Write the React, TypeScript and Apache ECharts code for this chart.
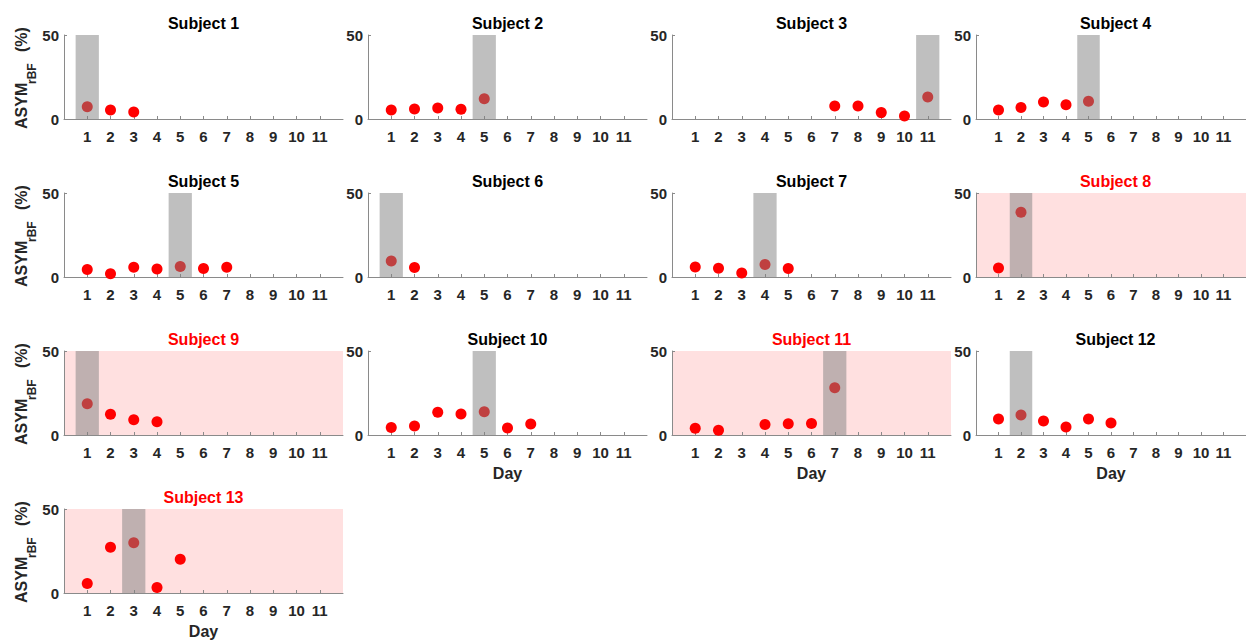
import React, { useEffect, useRef } from "react";
import * as echarts from "echarts";

// ---- data (ASYM_rBF %, index = day-1, null = no measurement) ----
const dayTicks = [1, 2, 3, 4, 5, 6, 7, 8, 9, 10, 11];
const subject1 = [7.3, 5.4, 4.2];
const subject2 = [5.4, 6.0, 6.5, 5.8, 12.1];
const subject3 = [null, null, null, null, null, null, 7.7, 7.7, 3.8, 1.8, 13.1];
const subject4 = [5.4, 6.9, 10.1, 8.5, 10.5];
const subject5 = [4.4, 2.0, 5.8, 4.8, 6.3, 5.0, 5.8];
const subject6 = [9.5, 5.6];
const subject7 = [6.0, 5.2, 2.4, 7.5, 5.0];
const subject8 = [5.4, 38.5];
const subject9 = [18.6, 12.3, 9.1, 7.9];
const subject10 = [4.5, 5.3, 13.6, 12.5, 13.8, 4.2, 6.5];
const subject11 = [4.0, 2.8, null, 6.3, 6.7, 6.9, 28.1];
const subject12 = [9.5, 11.9, 8.3, 4.8, 9.5, 7.1];
const subject13 = [5.7, 27.2, 29.9, 3.3, 20.1];
const subjectNames = [
  "Subject 1", "Subject 2", "Subject 3", "Subject 4", "Subject 5", "Subject 6", "Subject 7",
  "Subject 8", "Subject 9", "Subject 10", "Subject 11", "Subject 12", "Subject 13",
];
const highlightDays = [1, 5, 11, 5, 5, 1, 4, 2, 1, 5, 7, 2, 3];
const flaggedSubjects = [8, 9, 11, 13];
const dayAxisSubjects = [10, 11, 12, 13];
const yTicks = [0, 50];

const allSubjects = [
  subject1, subject2, subject3, subject4, subject5, subject6, subject7,
  subject8, subject9, subject10, subject11, subject12, subject13,
];

// ---- layout ----
const FONT = '"Liberation Sans", Arial, Helvetica, sans-serif';
const COL_LEFT = [64, 368, 672, 976];
const ROW_TOP = [35, 193, 351, 509];
const GRID_W = 279;
const GRID_H = 84;
const AXIS_COLOR = "#8a8a8a";
const TEXT_COLOR = "#262626";

export default function App() {
  const ref = useRef<HTMLDivElement>(null);

  useEffect(() => {
    if (!ref.current) return;
    const chart = echarts.init(ref.current, undefined, { renderer: "svg" });

    const grid: any[] = [];
    const xAxis: any[] = [];
    const yAxis: any[] = [];
    const series: any[] = [];
    const graphic: any[] = [];

    allSubjects.forEach((vals, i) => {
      const col = i % 4;
      const row = Math.floor(i / 4);
      const left = COL_LEFT[col];
      const top = ROW_TOP[row];
      const subjNo = i + 1;
      const flagged = flaggedSubjects.includes(subjNo);

      grid.push({
        left,
        top,
        width: GRID_W,
        height: GRID_H,
        show: flagged,
        backgroundColor: flagged ? "#FFE0E0" : "transparent",
        borderWidth: 0,
      });

      xAxis.push({
        type: "value",
        gridIndex: i,
        min: 0,
        max: 12,
        interval: 1,
        name: dayAxisSubjects.includes(subjNo) ? "Day" : "",
        nameLocation: "middle",
        nameGap: 30,
        nameTextStyle: { fontFamily: FONT, fontSize: 16, fontWeight: "bold", color: TEXT_COLOR },
        axisLine: { show: true, onZero: false, lineStyle: { color: AXIS_COLOR, width: 1 } },
        axisTick: { show: true, inside: true, length: 3, customValues: dayTicks, lineStyle: { color: AXIS_COLOR } },
        axisLabel: {
          show: true,
          customValues: dayTicks,
          margin: 10,
          fontFamily: FONT,
          fontSize: 15,
          fontWeight: "bold",
          color: TEXT_COLOR,
          formatter: (v: number) => (v >= 1 && v <= 11 ? String(v) : ""),
        },
        splitLine: { show: false },
      });

      yAxis.push({
        type: "value",
        gridIndex: i,
        min: 0,
        max: 50,
        interval: 50,
        axisLine: { show: true, lineStyle: { color: AXIS_COLOR, width: 1 } },
        axisTick: { show: true, inside: true, length: 3, customValues: yTicks, lineStyle: { color: AXIS_COLOR } },
        axisLabel: {
          show: true,
          customValues: yTicks,
          margin: 5,
          fontFamily: FONT,
          fontSize: 15,
          fontWeight: "bold",
          color: TEXT_COLOR,
        },
        splitLine: { show: false },
      });

      const pts: number[][] = [];
      vals.forEach((v, d) => {
        if (v !== null && v !== undefined) pts.push([d + 1, v as number]);
      });

      series.push({
        type: "scatter",
        xAxisIndex: i,
        yAxisIndex: i,
        data: pts,
        symbol: "circle",
        symbolSize: 11,
        itemStyle: { color: "#FF0000", opacity: 1 },
        z: 2,
        silent: true,
      });

      series.push({
        type: "custom",
        xAxisIndex: i,
        yAxisIndex: i,
        data: [[highlightDays[i], 50]],
        z: 3,
        silent: true,
        renderItem: (_p: any, api: any) => {
          const d = api.value(0);
          const p0 = api.coord([d - 0.5, 50]);
          const p1 = api.coord([d + 0.5, 0]);
          return {
            type: "rect",
            shape: { x: p0[0], y: p0[1], width: p1[0] - p0[0], height: p1[1] - p0[1] },
            style: { fill: "rgba(128,128,128,0.5)" },
          };
        },
      });

      graphic.push({
        type: "text",
        x: left + GRID_W / 2,
        y: top - 12,
        style: {
          text: subjectNames[i],
          fontFamily: FONT,
          fontSize: 16,
          fontWeight: "bold",
          fill: flagged ? "#FF0000" : "#000000",
          textAlign: "center",
          textVerticalAlign: "middle",
        },
        silent: true,
      });
    });

    // y-axis labels for first column
    ROW_TOP.forEach((top) => {
      const cy = top + GRID_H / 2;
      graphic.push({
        type: "text",
        x: 21.5,
        y: cy + 52,
        rotation: Math.PI / 2,
        style: {
          text: "ASYM",
          fontFamily: FONT,
          fontSize: 16,
          fontWeight: "bold",
          fill: TEXT_COLOR,
          textAlign: "left",
          textVerticalAlign: "middle",
        },
        silent: true,
      });
      graphic.push({
        type: "text",
        x: 31.5,
        y: cy + 7,
        rotation: Math.PI / 2,
        style: {
          text: "rBF",
          fontFamily: FONT,
          fontSize: 12,
          fontWeight: "bold",
          fill: TEXT_COLOR,
          textAlign: "left",
          textVerticalAlign: "middle",
        },
        silent: true,
      });
      graphic.push({
        type: "text",
        x: 21.5,
        y: cy - 25,
        rotation: Math.PI / 2,
        style: {
          text: "(%)",
          fontFamily: FONT,
          fontSize: 16,
          fontWeight: "bold",
          fill: TEXT_COLOR,
          textAlign: "left",
          textVerticalAlign: "middle",
        },
        silent: true,
      });
    });

    chart.setOption({
      animation: false,
      backgroundColor: "#ffffff",
      grid,
      xAxis,
      yAxis,
      series,
      graphic,
    });

    return () => chart.dispose();
  }, []);

  return (
    <div
      ref={ref}
      style={{ position: "absolute", left: 0, top: 0, width: 1246, height: 640 }}
    />
  );
}
